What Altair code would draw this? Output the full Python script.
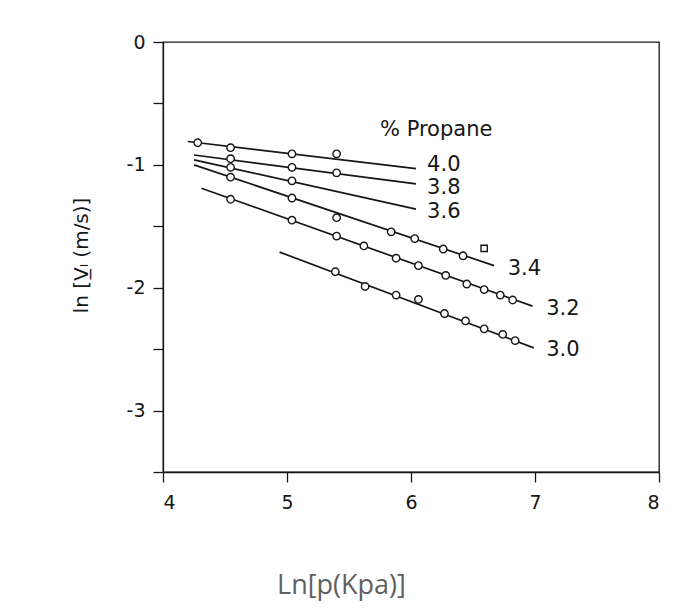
import altair as alt
import pandas as pd

# ---- data ----
series = ["4.0", "3.8", "3.6", "3.4", "3.2", "3.0"]

pts_x = {
    "4.0": [4.28, 4.545, 5.04, 5.40],
    "3.8": [4.545, 5.04, 5.40],
    "3.6": [4.545, 5.04],
    "3.4": [4.545, 5.04, 5.40, 5.84, 6.03, 6.26, 6.42, 6.59],
    "3.2": [4.545, 5.04, 5.40, 5.62, 5.88, 6.06, 6.28, 6.45, 6.59, 6.72, 6.82],
    "3.0": [5.39, 5.63, 5.88, 6.06, 6.27, 6.44, 6.59, 6.74, 6.84],
}
pts_y = {
    "4.0": [-0.82, -0.86, -0.91, -0.91],
    "3.8": [-0.95, -1.02, -1.065],
    "3.6": [-1.02, -1.13],
    "3.4": [-1.10, -1.27, -1.43, -1.545, -1.60, -1.685, -1.74, -1.68],
    "3.2": [-1.28, -1.45, -1.58, -1.66, -1.76, -1.82, -1.90, -1.97, -2.015, -2.06, -2.10],
    "3.0": [-1.87, -1.99, -2.06, -2.095, -2.21, -2.27, -2.335, -2.38, -2.43],
}
# marker kind per point ("o" circle, "s" square)
pts_kind = {
    "4.0": ["o", "o", "o", "o"],
    "3.8": ["o", "o", "o"],
    "3.6": ["o", "o"],
    "3.4": ["o", "o", "o", "o", "o", "o", "o", "s"],
    "3.2": ["o"] * 11,
    "3.0": ["o"] * 9,
}

# fitted straight lines: start and end points
line_x0 = [4.20, 4.25, 4.25, 4.25, 4.31, 4.94]
line_y0 = [-0.81, -0.92, -0.96, -1.00, -1.19, -1.71]
line_x1 = [6.04, 6.04, 6.04, 6.67, 6.98, 6.99]
line_y1 = [-1.03, -1.155, -1.36, -1.82, -2.15, -2.49]

# curve labels (left edge, middle)
lab_x = [6.13, 6.13, 6.13, 6.78, 7.09, 7.09]
lab_y = [-1.00, -1.19, -1.38, -1.85, -2.17, -2.51]
legend_title = "% Propane"
legend_x, legend_y = 5.75, -0.72

x_ticks = [4, 5, 6, 7, 8]
y_ticks = [0, -0.5, -1, -1.5, -2, -2.5, -3, -3.5]

# ---- tables ----
rows = []
for s in series:
    for xv, yv, k in zip(pts_x[s], pts_y[s], pts_kind[s]):
        rows.append({"x": xv, "y": yv, "series": s, "kind": k})
pts = pd.DataFrame(rows)

lrows = []
for s, a, b, c, d in zip(series, line_x0, line_y0, line_x1, line_y1):
    lrows.append({"x": a, "y": b, "x2": c, "y2": d, "series": s})
lines = pd.DataFrame(lrows)

labels = pd.DataFrame({"x": lab_x, "y": lab_y, "t": series})
legend = pd.DataFrame({"x": [legend_x], "y": [legend_y], "t": [legend_title]})

xs = alt.Scale(domain=[4, 8], nice=False, zero=False)
ys = alt.Scale(domain=[-3.5, 0], nice=False, zero=False)

ink = "#161616"

xax = alt.Axis(values=x_ticks, format="d", title="Ln[p(Kpa)]", grid=False,
               labelFontSize=19, labelFont="DejaVu Sans", labelColor=ink,
               labelPadding=11, tickSize=10, tickColor=ink, domainColor=ink,
               domainWidth=1.3, tickWidth=1.3,
               titleFont="Open Sans", titleFontSize=27, titleFontWeight="normal",
               titleColor="#5f5f5f", titleX=178, titleY=113,
               titleAlign="center", titleBaseline="middle")
yax = alt.Axis(values=y_ticks, title="ln [V̲ₗ (m/s)]", grid=False,
               labelExpr="datum.value % 1 === 0 ? '' + datum.value : ''",
               labelFontSize=19, labelFont="DejaVu Sans", labelColor=ink,
               labelPadding=8, tickSize=10, tickColor=ink, domainColor=ink,
               domainWidth=1.3, tickWidth=1.3,
               titleFont="DejaVu Sans", titleFontSize=20, titleFontWeight="normal",
               titleColor=ink, titleX=-82, titleY=213, titleAngle=270,
               titleAlign="center", titleBaseline="middle")

rules = alt.Chart(lines).mark_rule(color=ink, strokeWidth=1.7).encode(
    x=alt.X("x:Q", scale=xs, axis=xax),
    y=alt.Y("y:Q", scale=ys, axis=yax),
    x2="x2:Q", y2="y2:Q",
)

circles = alt.Chart(pts).transform_filter(alt.datum.kind == "o").mark_point(
    shape="circle", size=55, filled=True, fill="white", stroke=ink, strokeWidth=1.4, opacity=1
).encode(x=alt.X("x:Q", scale=xs), y=alt.Y("y:Q", scale=ys))

squares = alt.Chart(pts).transform_filter(alt.datum.kind == "s").mark_point(
    shape="square", size=40, filled=True, fill="white", stroke=ink, strokeWidth=1.4, opacity=1
).encode(x=alt.X("x:Q", scale=xs), y=alt.Y("y:Q", scale=ys))

text = alt.Chart(labels).mark_text(align="left", baseline="middle", fontSize=21,
                                   font="DejaVu Sans", color=ink).encode(
    x=alt.X("x:Q", scale=xs), y=alt.Y("y:Q", scale=ys), text="t:N")

ltext = alt.Chart(legend).mark_text(align="left", baseline="middle", fontSize=21,
                                    font="DejaVu Sans", color=ink).encode(
    x=alt.X("x:Q", scale=xs), y=alt.Y("y:Q", scale=ys), text="t:N")

chart = alt.layer(rules, circles, squares, text, ltext).properties(
    width=496, height=430,
    autosize=alt.AutoSizeParams(type="none"),
    padding={"left": 155, "top": 34, "right": 23, "bottom": 134},
    background="white",
).configure_view(stroke=ink, strokeWidth=1.3)

chart.save("out.html", embed_options={"renderer": "svg", "actions": False})
